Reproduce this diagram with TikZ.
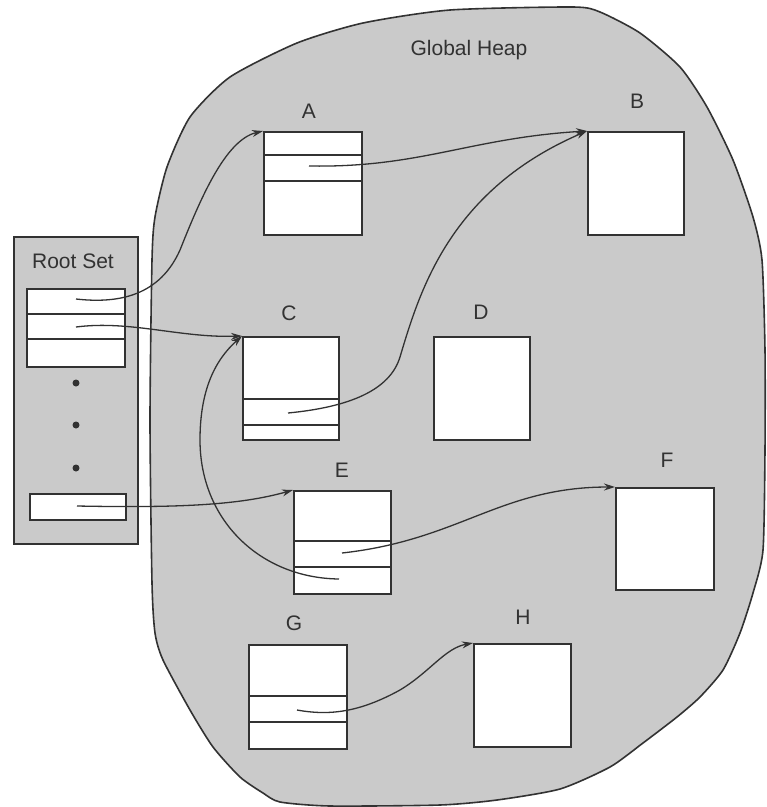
\documentclass[tikz,border=0pt]{standalone}
\usepackage{fontspec}
\setmainfont{Liberation Sans}
\usepackage{tikz}
\usetikzlibrary{arrows.meta}
\usepackage{xcolor}
\definecolor{heapgray}{RGB}{202,202,202}
\definecolor{inkgray}{RGB}{50,50,50}

\begin{document}
\begin{tikzpicture}[
  x=1pt, y=-1pt,
  every node/.style={font=\fontsize{21}{25}\selectfont, text=inkgray},
  objbox/.style={draw=inkgray, fill=white, line width=1.6pt, anchor=north west, inner sep=0pt},
  slotline/.style={draw=inkgray, line width=1.2pt},
  ptr/.style={draw=inkgray, line width=1.3pt, -{Stealth[length=11pt,width=7pt]}}
]
\useasboundingbox (0,0) rectangle (767,807);

% global heap
\draw[fill=heapgray, draw=inkgray, line width=1.6pt] plot[smooth cycle, tension=0.4] coordinates {
  (152,260) (155,217) (167,167) (190,117) (230,77) (297,43) (363,23) (450,10)
  (573,7) (600,12) (640,33) (680,67) (707,107) (733,160) (753,217) (762,260)
  (765,350) (765,450) (763,550) (753,593) (740,633) (723,670) (700,697)
  (677,717) (643,743) (610,767) (560,789) (497,800) (440,805) (330,806)
  (280,802) (263,793) (240,777) (213,747) (190,710) (163,660) (155,633)
  (152,583) (150,420)};
\node (heap) at (469,50) {Global Heap};

% root set
\node[draw=inkgray, fill=heapgray, line width=1.6pt, anchor=north west, inner sep=0pt,
      minimum width=124pt, minimum height=307pt] (rootset) at (13,236) {};
\node (rootlbl) at (73,261) {Root Set};
\node[objbox, minimum width=98pt, minimum height=78pt] (roots) at (26,288) {};
\draw[slotline] (roots.west |- 0,314) -- (roots.east |- 0,314);
\draw[slotline] (roots.west |- 0,339) -- (roots.east |- 0,339);
\node[objbox, minimum width=96pt, minimum height=26pt] (rootlast) at (29,493) {};
\foreach \y in {383,425,468} \fill[inkgray] (76,\y) circle (3.5pt);
\coordinate (r1) at (76,299);
\coordinate (r2) at (76,327);
\coordinate (r3) at (77,506);

% objects
\node[objbox, minimum width=98pt, minimum height=103pt] (A) at (263,131) {};
\node (labA) at (309,111) {A};
\draw[slotline] (A.west |- 0,155) -- (A.east |- 0,155);
\draw[slotline] (A.west |- 0,181) -- (A.east |- 0,181);
\coordinate (aslot) at (309,166);

\node[objbox, minimum width=96pt, minimum height=103pt] (B) at (587,131) {};
\node (labB) at (637,101) {B};

\node[objbox, minimum width=96pt, minimum height=103pt] (C) at (242,336) {};
\node (labC) at (289,313) {C};
\draw[slotline] (C.west |- 0,399) -- (C.east |- 0,399);
\draw[slotline] (C.west |- 0,425) -- (C.east |- 0,425);
\coordinate (cslot) at (288,413);

\node[objbox, minimum width=96pt, minimum height=103pt] (D) at (433,336) {};
\node (labD) at (481,312) {D};

\node[objbox, minimum width=97pt, minimum height=103pt] (E) at (293,490) {};
\node (labE) at (342,470) {E};
\draw[slotline] (E.west |- 0,541) -- (E.east |- 0,541);
\draw[slotline] (E.west |- 0,567) -- (E.east |- 0,567);
\coordinate (eslot) at (342,553);
\coordinate (eslotb) at (339,579);

\node[objbox, minimum width=98pt, minimum height=102pt] (F) at (615,487) {};
\node (labF) at (667,460) {F};

\node[objbox, minimum width=98pt, minimum height=104pt] (G) at (248,644) {};
\node (labG) at (294,623) {G};
\draw[slotline] (G.west |- 0,696) -- (G.east |- 0,696);
\draw[slotline] (G.west |- 0,722) -- (G.east |- 0,722);
\coordinate (gslot) at (297,710);

\node[objbox, minimum width=97pt, minimum height=103pt] (H) at (473,643) {};
\node (labH) at (523,617) {H};

% pointers from the root set
\draw[ptr] (r1) .. controls (120,304) and (160,295) .. (180,250)
  .. controls (200,200) and (225,140) .. (A.north west);
\draw[ptr] (r2) .. controls (130,320) and (180,338) .. (C.north west);
\draw[ptr] (r3) .. controls (180,508) and (240,505) .. (E.north west);

% pointers inside the heap
\draw[ptr] (aslot) .. controls (420,168) and (470,138) .. (B.north west);
\draw[ptr] (cslot) .. controls (350,407) and (390,390) .. (400,357)
  .. controls (420,290) and (450,190) .. (B.north west);
\draw[ptr] (eslotb) .. controls (260,578) and (200,520) .. (200,440)
  .. controls (200,390) and (215,360) .. (C.north west);
\draw[ptr] (eslot) .. controls (460,540) and (500,487) .. (F.north west);
\draw[ptr] (gslot) .. controls (330,716) and (360,712) .. (400,690)
  .. controls (430,672) and (445,648) .. (H.north west);

\end{tikzpicture}
\end{document}
